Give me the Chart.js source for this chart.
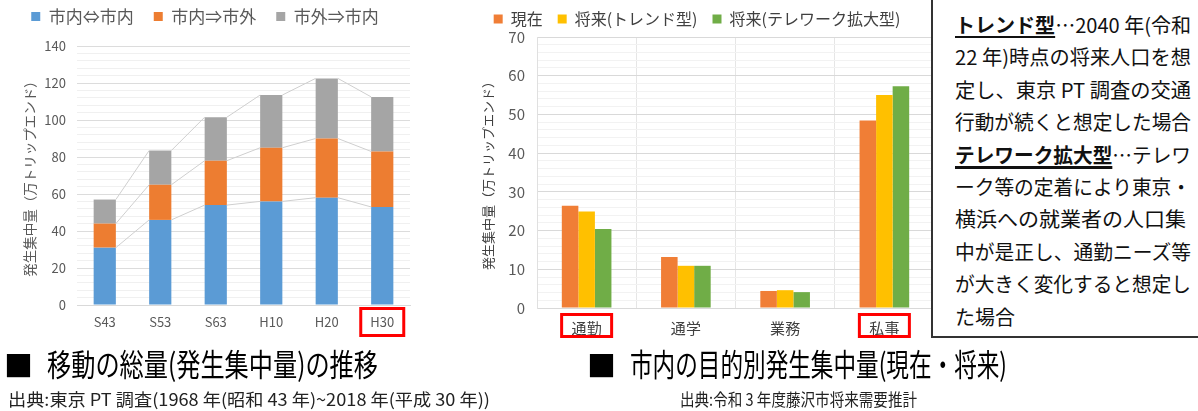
<!DOCTYPE html>
<html><head><meta charset="utf-8">
<script src="https://cdn.jsdelivr.net/npm/chart.js@4.4.1/dist/chart.umd.min.js"></script>
<style>
body{margin:0;width:1198px;height:411px;background:#fff;overflow:hidden;position:relative;font-family:"Noto Sans CJK JP","Noto Sans",sans-serif;}
#c1wrap{position:absolute;left:0;top:0;width:420px;height:345px;}
#c2wrap{position:absolute;left:460px;top:0;width:484px;height:345px;}
#note{position:absolute;left:931px;top:-3px;width:280px;height:341px;border:2px solid #333;background:#fff;box-sizing:border-box;padding:10px 0 0 22px;font-size:20px;line-height:32.4px;color:#111;white-space:nowrap;}
#note .ln{display:block;height:32.4px;}
#note .ln span.t{display:inline-block;transform-origin:0 50%;}
.k1{font-weight:bold;text-decoration:underline;text-decoration-thickness:2px;text-underline-offset:3px;}
.k2{font-weight:bold;text-decoration:underline;text-decoration-thickness:3px;text-underline-offset:3px;}
.abs{position:absolute;white-space:nowrap;transform-origin:0 50%;}
.ttl{font-size:31px;line-height:31px;color:#000;}
.sub{font-size:17px;line-height:17px;color:#222;}
.sq{font-size:29px;line-height:29px;color:#000;}
</style></head>
<body>
<div id="c1wrap"><canvas id="c1" width="420" height="345"></canvas></div>
<div id="c2wrap"><canvas id="c2" width="484" height="345"></canvas></div>
<div id="note">
<div class="ln"><span class="t fit"><span class="k1">トレンド型</span>…2040 年(令和</span></div>
<div class="ln"><span class="t fit">22 年)時点の将来人口を想</span></div>
<div class="ln"><span class="t fit">定し、東京 PT 調査の交通</span></div>
<div class="ln"><span class="t fit">行動が続くと想定した場合</span></div>
<div class="ln"><span class="t fit"><span class="k2">テレワーク拡大型</span>…テレワ</span></div>
<div class="ln"><span class="t fit">ーク等の定着により東京・</span></div>
<div class="ln"><span class="t fit">横浜への就業者の人口集</span></div>
<div class="ln"><span class="t fit">中が是正し、通勤ニーズ等</span></div>
<div class="ln"><span class="t fit">が大きく変化すると想定し</span></div>
<div class="ln"><span class="t">た場合</span></div>
</div>
<div class="abs sq" style="left:4px;top:350px;">■</div>
<div class="abs ttl" id="t1" data-w="331" style="left:47px;top:347px;">移動の総量(発生集中量)の推移</div>
<div class="abs sub" id="s1" data-w="482" style="left:8px;top:390px;">出典:東京 PT 調査(1968 年(昭和 43 年)~2018 年(平成 30 年))</div>
<div class="abs sq" style="left:587px;top:350px;">■</div>
<div class="abs ttl" id="t2" data-w="377" style="left:630px;top:347px;">市内の目的別発生集中量(現在・将来)</div>
<div class="abs sub" id="s2" data-w="237" style="left:680px;top:390px;">出典:令和 3 年度藤沢市将来需要推計</div>
<script>
// ---- data: left chart (移動の総量) ----
const leftCategories = ['S43','S53','S63','H10','H20','H30'];
const leftSeriesNames = ['市内⇔市内','市内⇒市外','市外⇒市内'];
const withinCity   = [31, 46, 54, 56, 58, 53];
const cityToOut    = [13, 19, 24, 29, 32, 30];
const outToCity    = [13, 18.5, 23.5, 28.5, 32.5, 29.5];
const leftYMax = 140, leftYStep = 4, leftYLabelStep = 20;
const leftHighlighted = ['H30'];

// ---- data: middle chart (目的別) ----
const purposeCategories = ['通勤','通学','業務','私事'];
const purposeSeriesNames = ['現在','将来(トレンド型)','将来(テレワーク拡大型)'];
const currentVals  = [26.4, 13.2, 4.4, 48.4];
const trendVals    = [24.9, 10.9, 4.6, 55.0];
const teleworkVals = [20.4, 10.9, 4.1, 57.3];
const midYMax = 70, midYStep = 2, midYLabelStep = 10;
const midHighlighted = ['通勤','私事'];

const yTitle = '発生集中量（万トリップエンド）';

Chart.defaults.font.family = '"Noto Sans CJK JP","Noto Sans",sans-serif';
Chart.defaults.animation = false;

const legendAdjust = {
  id:'legendAdjust',
  beforeInit(chart, args, opts){
    const lg = chart.legend; if(!lg) return;
    const f = lg.fit.bind(lg);
    lg.fit = function(){ f(); this.height = chart.options.plugins.legendAdjust.height; };
  },
  afterLayout(chart, args, opts){
    const lg = chart.legend; if(!lg) return;
    lg.top += opts.shift; lg.bottom += opts.shift;
  }
};
const seriesLines = {
  id:'seriesLines',
  afterDatasetsDraw(chart, args, opts){
    const ctx = chart.ctx; ctx.save(); ctx.strokeStyle = opts.color; ctx.lineWidth = 1;
    chart.data.datasets.forEach((ds,i)=>{
      const meta = chart.getDatasetMeta(i);
      for(let j=0;j<meta.data.length-1;j++){
        const a = meta.data[j], b = meta.data[j+1];
        ctx.beginPath(); ctx.moveTo(a.x + a.width/2, a.y); ctx.lineTo(b.x - b.width/2, b.y); ctx.stroke();
      }
    });
    ctx.restore();
  }
};
const labelBoxes = {
  id:'labelBoxes',
  afterDraw(chart, args, opts){
    const xs = chart.scales.x, ctx = chart.ctx;
    ctx.save(); ctx.strokeStyle = '#FF0000'; ctx.lineWidth = 3;
    opts.labels.forEach(l=>{
      const cx = xs.getPixelForValue(chart.data.labels.indexOf(l));
      ctx.strokeRect(cx - opts.width/2, opts.top, opts.width, opts.height);
    });
    ctx.restore();
  }
};

new Chart(document.getElementById('c1'), {
  type:'bar',
  data:{labels:leftCategories, datasets:[
    {label:leftSeriesNames[0], data:withinCity, backgroundColor:'#5B9BD5'},
    {label:leftSeriesNames[1], data:cityToOut, backgroundColor:'#ED7D31'},
    {label:leftSeriesNames[2], data:outToCity, backgroundColor:'#A5A5A5'}]},
  plugins:[legendAdjust, seriesLines, labelBoxes],
  options:{
    responsive:false, devicePixelRatio:1,
    categoryPercentage:0.8, barPercentage:0.5,
    layout:{padding:{left:0,right:10,top:0,bottom:0}},
    plugins:{
      legend:{position:'top',labels:{font:{size:17},color:'#595959',boxWidth:9,boxHeight:9,padding:20}},
      legendAdjust:{height:46, shift:-12},
      seriesLines:{color:'#cfcfcf'},
      labelBoxes:{labels:leftHighlighted, width:43, top:308.5, height:27},
      tooltip:{enabled:false}
    },
    scales:{
      x:{stacked:true, grid:{display:false, drawTicks:false}, border:{color:'#d9d9d9'},
         ticks:{font:{size:13},color:'#595959',padding:9},
         afterFit:s=>{s.height=40;}},
      y:{stacked:true, min:0, max:leftYMax,
         ticks:{stepSize:leftYStep, autoSkip:false, font:{size:13}, color:'#595959', padding:11,
                callback:v=> v % leftYLabelStep === 0 ? v : ''},
         grid:{drawTicks:false, color:c=> (c.tick && c.tick.value % leftYLabelStep === 0) ? '#dcdcdc' : '#f0f0f0'},
         border:{display:false},
         title:{display:true, text:yTitle, font:{size:13.5}, color:'#595959', padding:{top:22,bottom:0}},
         afterFit:s=>{s.width=77;}}
    }
  }
});

new Chart(document.getElementById('c2'), {
  type:'bar',
  data:{labels:purposeCategories, datasets:[
    {label:purposeSeriesNames[0], data:currentVals, backgroundColor:'#F07E36'},
    {label:purposeSeriesNames[1], data:trendVals, backgroundColor:'#FFC000'},
    {label:purposeSeriesNames[2], data:teleworkVals, backgroundColor:'#70AD47'}]},
  plugins:[legendAdjust, labelBoxes],
  options:{
    responsive:false, devicePixelRatio:1,
    categoryPercentage:0.5, barPercentage:1.0,
    layout:{padding:{left:0,right:10,top:0,bottom:0}},
    plugins:{
      legend:{position:'top',labels:{font:{size:16},color:'#404040',boxWidth:9,boxHeight:9,padding:15}},
      legendAdjust:{height:37, shift:-4},
      labelBoxes:{labels:midHighlighted, width:50, top:314.5, height:22},
      tooltip:{enabled:false}
    },
    scales:{
      x:{grid:{color:'#e6e6e6', drawTicks:false}, border:{color:'#d9d9d9'},
         ticks:{font:{size:15},color:'#404040',padding:11},
         afterFit:s=>{s.height=37;}},
      y:{min:0, max:midYMax,
         ticks:{stepSize:midYStep, autoSkip:false, font:{size:15}, color:'#595959', padding:12,
                callback:v=> v % midYLabelStep === 0 ? v : ''},
         grid:{drawTicks:false, color:c=> (c.tick && c.tick.value % midYLabelStep === 0) ? '#d9d9d9' : '#f2f2f2'},
         border:{color:'#e0e0e0'},
         title:{display:true, text:yTitle, font:{size:13}, color:'#404040', padding:{top:20,bottom:0}},
         afterFit:s=>{s.width=77;}}
    }
  }
});

// fit text widths to the reference layout
document.querySelectorAll('[data-w]').forEach(el=>{
  const w = el.getBoundingClientRect().width;
  el.style.transform = 'scaleX(' + (parseFloat(el.dataset.w)/w) + ')';
});
document.querySelectorAll('#note .fit').forEach(el=>{
  const w = el.getBoundingClientRect().width;
  const s = Math.max(0.8, Math.min(1.05, 236/w));
  el.style.transform = 'scaleX(' + s + ')';
});
</script>
</body></html>
